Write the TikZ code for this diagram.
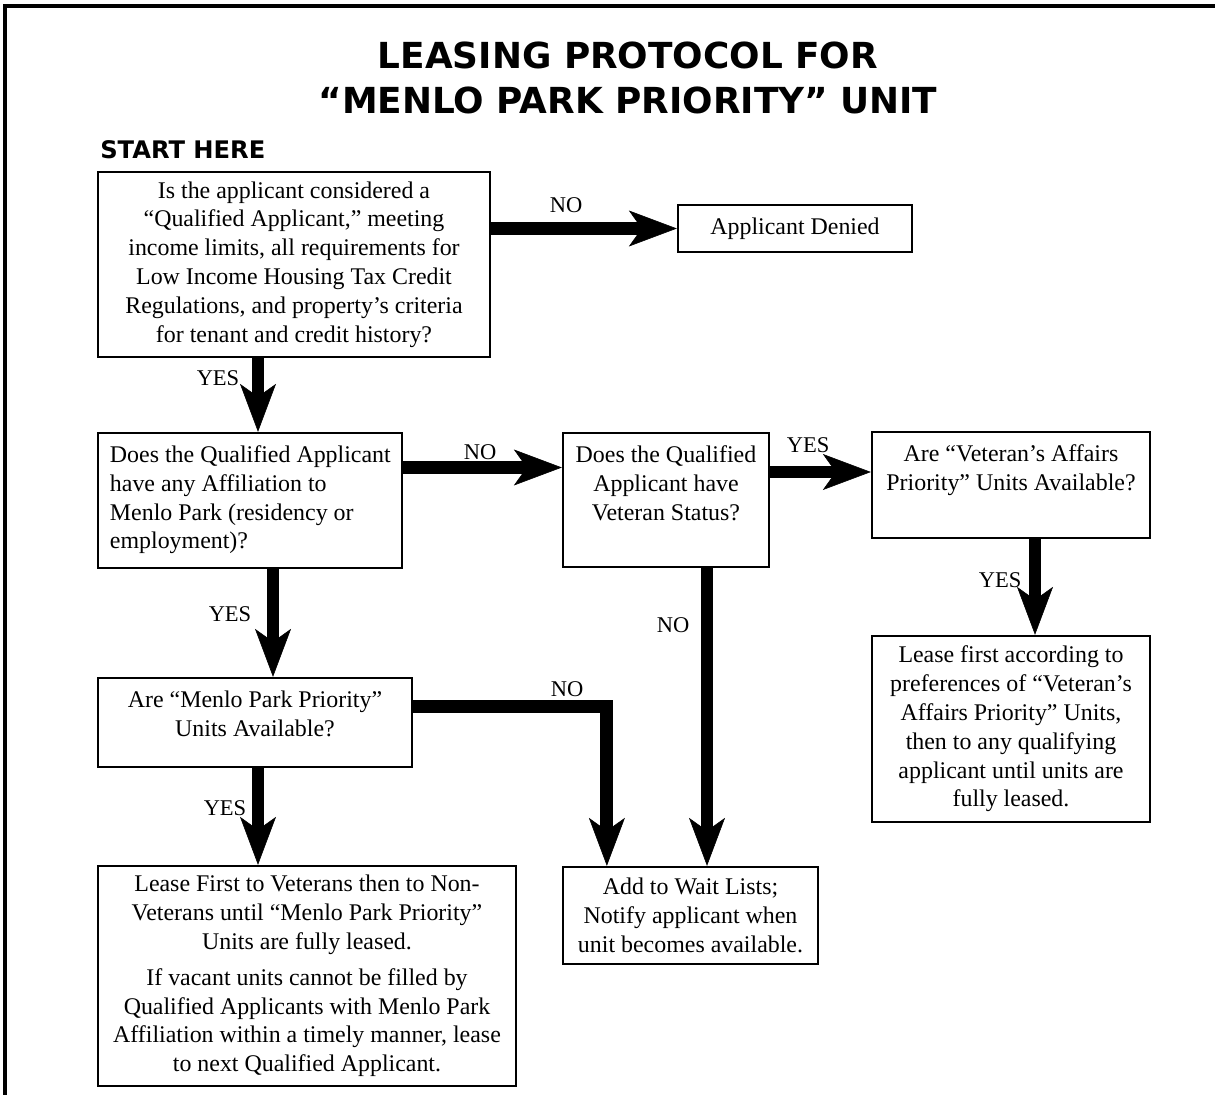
\documentclass[tikz,border=0pt]{standalone}
\usepackage{fontspec}
\setmainfont{Liberation Serif}
\newfontfamily\headfont{DejaVu Sans}
\usetikzlibrary{arrows.meta, calc}

% box contents: centred or hanging from the top
\newcommand{\midtext}[3]{\parbox[c][#2][c]{#1}{\centering #3}}
\newcommand{\toptext}[3]{\parbox[c][#2][t]{#1}{\vspace*{9pt}\centering #3}}
\newcommand{\lefttext}[3]{\parbox[c][#2][t]{#1}{\vspace*{9pt}\raggedright\leftskip=0.3cm #3}}

\begin{document}
\begin{tikzpicture}[
    x=0.025cm, y=-0.025cm,
    box/.style={draw, line width=1.6pt, inner sep=0pt, font=\fontsize{17}{20.5}\selectfont},
    flow/.style={line width=0.32cm, -{Stealth[length=1.2cm, width=0.9cm, inset=0.32cm, line width=0.4pt]}},
    lbl/.style={inner sep=0pt, font=\fontsize{16}{18}\selectfont}
]
\useasboundingbox (0,0) rectangle (1215,1095);
\draw[line width=2.2pt] (5,1095) -- (5,6) -- (1215,6);

\node[align=center, font=\headfont\bfseries\fontsize{25.5}{32}\selectfont] (title) at (628,78) {LEASING PROTOCOL FOR\\“MENLO PARK PRIORITY” UNIT};
\node[anchor=base west, inner sep=0pt, font=\headfont\bfseries\fontsize{17.2}{20}\selectfont] (start) at (100,159) {START HERE};

% boxes
\node[box] (q1) at (294,264.5) {\midtext{9.8cm}{4.625cm}{Is the applicant considered a\\ “Qualified Applicant,” meeting\\ income limits, all requirements for\\ Low Income Housing Tax Credit\\ Regulations, and property’s criteria\\ for tenant and credit history?}};
\node[box] (denied) at (795,228.5) {\midtext{5.85cm}{1.175cm}{Applicant Denied}};
\node[box] (q2) at (250,500.5) {\lefttext{7.6cm}{3.375cm}{Does the Qualified Applicant\\ have any Affiliation to\\ Menlo Park (residency or\\ employment)?}};
\node[box] (q3) at (666,500) {\toptext{5.15cm}{3.35cm}{Does the Qualified\\ Applicant have\\ Veteran Status?}};
\node[box] (q4) at (1011,485) {\toptext{6.95cm}{2.65cm}{Are “Veteran’s Affairs\\ Priority” Units Available?}};
\node[box] (leaseva) at (1011,729) {\midtext{6.95cm}{4.65cm}{Lease first according to\\ preferences of “Veteran’s\\ Affairs Priority” Units,\\ then to any qualifying\\ applicant until units are\\ fully leased.}};
\node[box] (q5) at (255,722.5) {\toptext{7.85cm}{2.225cm}{Are “Menlo Park Priority”\\ Units Available?}};
\node[box] (leasemp) at (307,976) {\midtext{10.45cm}{5.5cm}{Lease First to Veterans then to Non-\\ Veterans until “Menlo Park Priority”\\ Units are fully leased.\\[5pt] If vacant units cannot be filled by\\ Qualified Applicants with Menlo Park\\ Affiliation within a timely manner, lease\\ to next Qualified Applicant.}};
\node[box] (wait) at (690.5,915.5) {\midtext{6.375cm}{2.425cm}{Add to Wait Lists;\\ Notify applicant when\\ unit becomes available.}};

% arrows
\draw[flow] (q1.east |- denied.west) -- (denied.west);
\draw[flow] ([xshift=-0.9cm]q1.south) -- ([xshift=-0.9cm]q1.south |- q2.north);
\draw[flow] ([yshift=0.825cm]q2.east) -- ([yshift=0.825cm]q2.east -| q3.west);
\draw[flow] ([yshift=0.325cm]q4.west -| q3.east) -- ([yshift=0.325cm]q4.west);
\draw[flow] ([xshift=0.6cm]q4.south) -- ([xshift=0.6cm]q4.south |- leaseva.north);
\draw[flow] ([xshift=0.575cm]q2.south) -- ([xshift=0.575cm]q2.south |- q5.north);
\draw[flow] ([xshift=1.025cm]q3.south) -- ([xshift=1.025cm]q3.south |- wait.north);
\draw[flow] ([yshift=0.39cm]q5.east) -| ([xshift=-2.09cm]wait.north);
\draw[flow] ([xshift=0.075cm]q5.south) -- ([xshift=0.075cm]q5.south |- leasemp.north);

% labels
\node[lbl] (no1) at (566,205) {NO};
\node[lbl] (yes1) at (218,378) {YES};
\node[lbl] (no2) at (480,452) {NO};
\node[lbl] (yes2) at (808,445) {YES};
\node[lbl] (yes3) at (1000,580) {YES};
\node[lbl] (yes4) at (230,614) {YES};
\node[lbl] (no3) at (673,625) {NO};
\node[lbl] (no4) at (567,689) {NO};
\node[lbl] (yes5) at (225,808) {YES};
\end{tikzpicture}
\end{document}
